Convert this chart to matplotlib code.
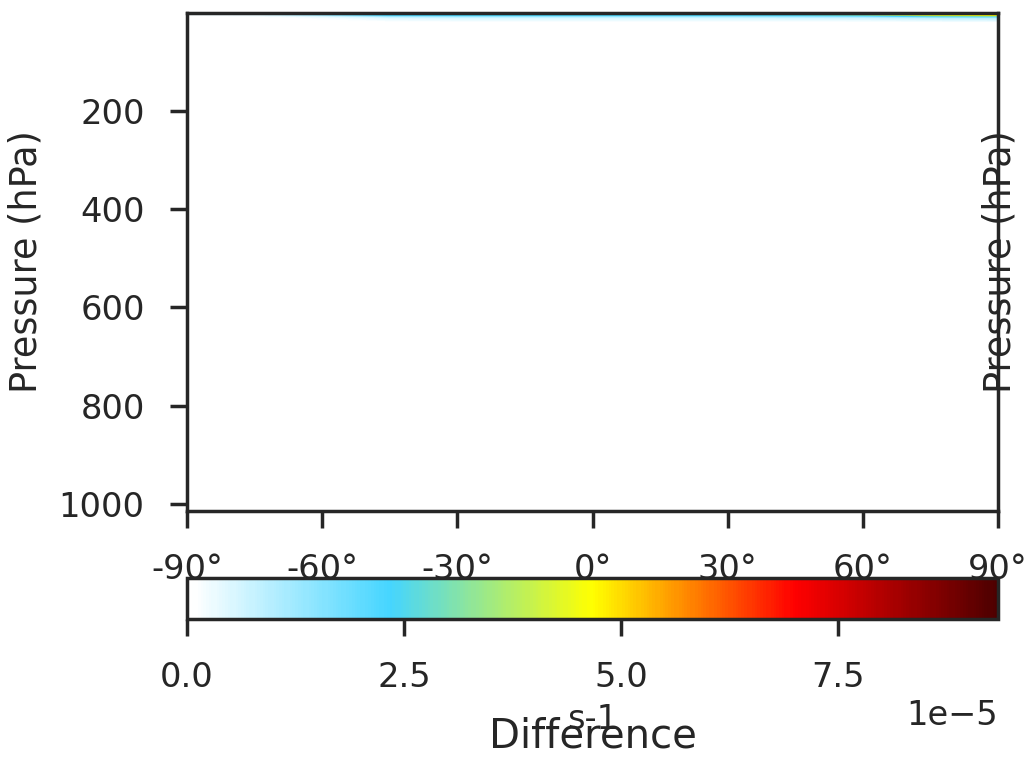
import numpy as np
import matplotlib
matplotlib.use("Agg")
import matplotlib.pyplot as plt
import seaborn as sns
from matplotlib.colors import LinearSegmentedColormap

sns.set_theme(style="ticks", context="poster", font_scale=1.1)
plt.rcParams["xtick.major.pad"] = 18.5
plt.rcParams["ytick.major.pad"] = 18.5

# latitude (deg) and pressure levels (hPa)
lat = [-90, -75, -60, -45, -30, -15, 0, 15, 30, 45, 60, 75, 90]
pres = [1, 2, 3, 5, 7, 10, 20, 30, 50, 70, 100, 150, 200, 250,
        300, 400, 500, 600, 700, 850, 925, 1000]

# difference (1e-5 s-1), upper levels; zero from 20 hPa down
diff_1hpa = [0.3, 0.5, 1.6, 2.7, 2.8, 2.8, 2.8, 2.8, 2.8, 2.9, 3.3, 5.0, 9.34]
diff_2hpa = [0.25, 0.45, 1.5, 2.6, 2.7, 2.7, 2.7, 2.7, 2.7, 2.8, 3.2, 4.8, 6.5]
diff_3hpa = [0.2, 0.4, 1.4, 2.5, 2.6, 2.6, 2.6, 2.6, 2.6, 2.7, 3.1, 4.6, 5.4]
diff_5hpa = [0.15, 0.3, 1.2, 2.3, 2.4, 2.4, 2.4, 2.4, 2.4, 2.5, 2.9, 4.3, 4.8]
diff_7hpa = [0.1, 0.2, 0.6, 1.4, 1.5, 1.5, 1.5, 1.5, 1.5, 1.6, 1.8, 2.8, 3.2]
diff_10hpa = [0.0, 0.05, 0.2, 0.5, 0.6, 0.6, 0.6, 0.6, 0.6, 0.65, 0.7, 0.9, 1.0]
diff_below = [0.0] * len(lat)

lat_ticks = [-90, -60, -30, 0, 30, 60, 90]
lat_labels = ["-90°", "-60°", "-30°", "0°", "30°", "60°", "90°"]
p_ticks = [200, 400, 600, 800, 1000]
cbar_ticks = [0.0, 2.5e-5, 5.0e-5, 7.5e-5]

upper = [diff_1hpa, diff_2hpa, diff_3hpa, diff_5hpa, diff_7hpa, diff_10hpa]
diff = np.array(upper + [diff_below] * (len(pres) - len(upper))) * 1e-5

cmap = LinearSegmentedColormap.from_list(
    "wbgyr", [(0.0, "#ffffff"), (0.006, "#ffffff"), (0.25, "#45d5ff"),
              (0.5, "#ffff00"), (0.75, "#ff0000"), (1.0, "#4d0000")])

fig = plt.figure(figsize=(10.25, 7.62), dpi=100)
ax = fig.add_axes([187 / 1025, 1 - 511 / 762, 811 / 1025, 498 / 762])
cax = fig.add_axes([187 / 1025, 1 - 619 / 762, 811 / 1025, 41 / 762])

levels = np.linspace(0, diff.max(), 301)
cf = ax.contourf(lat, pres, diff, levels=levels, cmap=cmap)

ax.set_xlim(-90, 90)
ax.set_ylim(1014, 1)
ax.set_xticks(lat_ticks)
ax.set_xticklabels(lat_labels)
ax.set_yticks(p_ticks)
ax.set_ylabel("Pressure (hPa)", labelpad=10)
ax.text(1.003, 0.5, "Pressure (hPa)", transform=ax.transAxes, rotation=90,
        ha="center", va="center", fontsize=26.4, color=".15")

cbar = fig.colorbar(cf, cax=cax, orientation="horizontal")
cbar.set_ticks(cbar_ticks)
cbar.set_label("s-1", fontsize=24.2)
cbar.ax.xaxis.labelpad = 6

fig.text(593 / 1025, 1 - 747 / 762, "Difference", ha="center", va="baseline",
         fontsize=29, color=".15")

fig.savefig("out.png", dpi=100)
